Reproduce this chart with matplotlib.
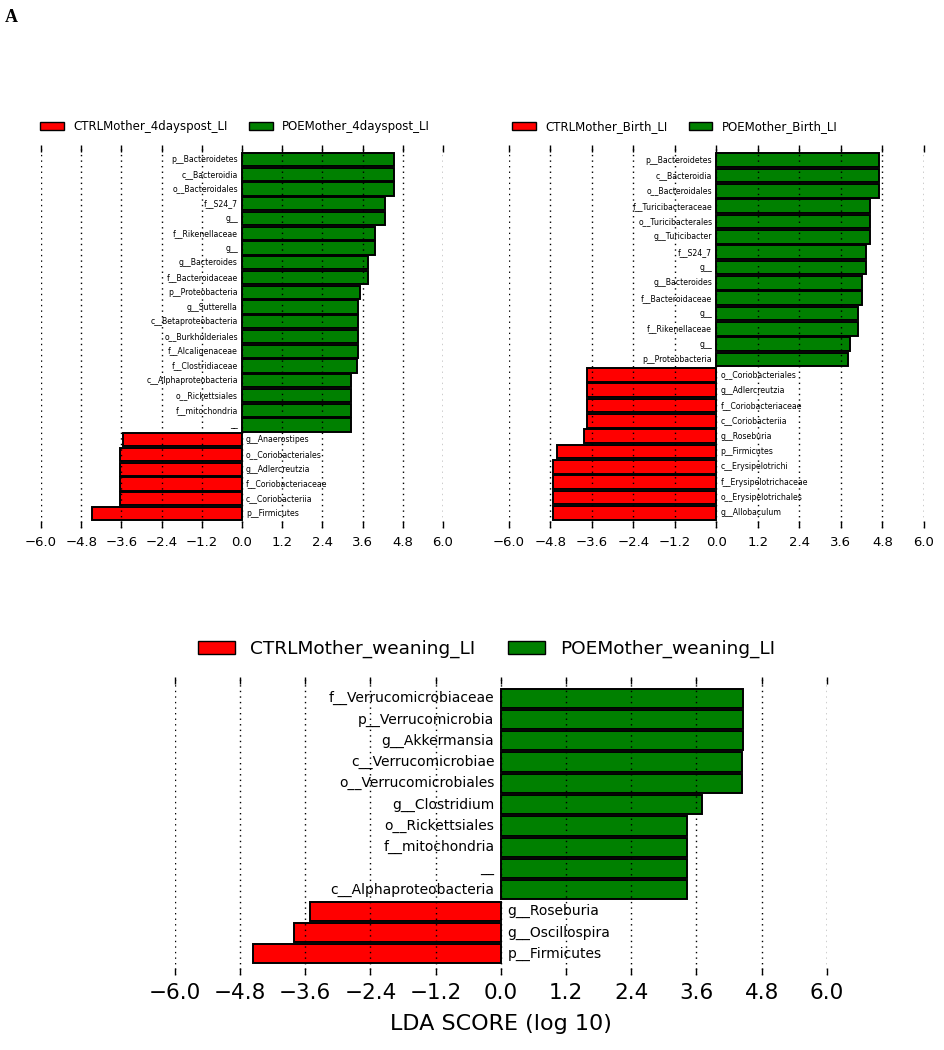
import numpy as np
import matplotlib
matplotlib.use("Agg")
import matplotlib.pyplot as plt
from matplotlib.patches import Patch

# panel 1: 4 days postpartum
tl_names = ["p__Bacteroidetes", "c__Bacteroidia", "o__Bacteroidales", "f__S24_7", "g__",
            "f__Rikenellaceae", "g__", "g__Bacteroides", "f__Bacteroidaceae", "p__Proteobacteria",
            "g__Sutterella", "c__Betaproteobacteria", "o__Burkholderiales", "f__Alcaligenaceae",
            "f__Clostridiaceae", "c__Alphaproteobacteria", "o__Rickettsiales", "f__mitochondria", "__",
            "g__Anaerostipes", "o__Coriobacteriales", "g__Adlercreutzia", "f__Coriobacteriaceae",
            "c__Coriobacteriia", "p__Firmicutes"]
tl_scores = [4.54, 4.54, 4.54, 4.27, 4.27, 3.97, 3.97, 3.75, 3.75, 3.52,
             3.47, 3.47, 3.47, 3.47, 3.42, 3.25, 3.25, 3.25, 3.25,
             -3.54, -3.64, -3.64, -3.64, -3.64, -4.47]
tl_groups = ["CTRLMother_4dayspost_LI", "POEMother_4dayspost_LI"]

# panel 2: birth
tr_names = ["p__Bacteroidetes", "c__Bacteroidia", "o__Bacteroidales", "f__Turicibacteraceae",
            "o__Turicibacterales", "g__Turicibacter", "f__S24_7", "g__", "g__Bacteroides",
            "f__Bacteroidaceae", "g__", "f__Rikenellaceae", "g__", "p__Proteobacteria",
            "o__Coriobacteriales", "g__Adlercreutzia", "f__Coriobacteriaceae", "c__Coriobacteriia",
            "g__Roseburia", "p__Firmicutes", "c__Erysipelotrichi", "f__Erysipelotrichaceae",
            "o__Erysipelotrichales", "g__Allobaculum"]
tr_scores = [4.69, 4.69, 4.69, 4.43, 4.43, 4.43, 4.33, 4.33, 4.21, 4.21, 4.09, 4.09, 3.87, 3.82,
             -3.74, -3.74, -3.74, -3.74, -3.82, -4.62, -4.72, -4.72, -4.72, -4.74]
tr_groups = ["CTRLMother_Birth_LI", "POEMother_Birth_LI"]

# panel 3: weaning
bt_names = ["f__Verrucomicrobiaceae", "p__Verrucomicrobia", "g__Akkermansia", "c__Verrucomicrobiae",
            "o__Verrucomicrobiales", "g__Clostridium", "o__Rickettsiales", "f__mitochondria", "__",
            "c__Alphaproteobacteria", "g__Roseburia", "g__Oscillospira", "p__Firmicutes"]
bt_scores = [4.46, 4.46, 4.46, 4.44, 4.44, 3.70, 3.42, 3.42, 3.42, 3.42, -3.51, -3.80, -4.57]
bt_groups = ["CTRLMother_weaning_LI", "POEMother_weaning_LI"]

ticks = np.arange(-6.0, 6.01, 1.2)
RED, GREEN = "#ff0000", "#008000"


def lda_panel(ax, names, scores, groups, lab_fs, tick_fs, leg_fs, leg_x, leg_y):
    scores = np.array(scores)
    n = len(names)
    y = np.arange(n)[::-1]
    cols = [GREEN if s > 0 else RED for s in scores]
    ax.barh(y, scores, height=0.9, color=cols, edgecolor="black", linewidth=1.4, zorder=1)
    for yi, s, name in zip(y, scores, names):
        if s > 0:
            ax.text(-0.12, yi, name, ha="right", va="center", fontsize=lab_fs, zorder=3)
        else:
            ax.text(0.12, yi, name, ha="left", va="center", fontsize=lab_fs, zorder=3)
    ax.set_xlim(-6.0, 6.0)
    ax.set_ylim(-1, n)
    ax.set_xticks(ticks)
    ax.set_xticklabels([f"{t:.1f}".replace("-", "\u2212") for t in ticks], fontsize=tick_fs)
    ax.set_yticks([])
    ax.tick_params(axis="x", direction="in", top=True, length=5, width=1, pad=6)
    for sp in ax.spines.values():
        sp.set_visible(False)
    ax.grid(axis="x", linestyle=(0, (1, 3)), color="black", linewidth=1, zorder=2)
    ax.set_axisbelow(False)
    handles = [Patch(facecolor=RED, edgecolor="black"), Patch(facecolor=GREEN, edgecolor="black")]
    ax.legend(handles, groups, loc="center", bbox_to_anchor=(leg_x, leg_y), ncol=2,
              frameon=False, fontsize=leg_fs, handlelength=2.0, columnspacing=1.8)


fig = plt.figure(figsize=(9.45, 10.5), dpi=100)

ax1 = fig.add_axes([0.0434, 0.497, 0.4254, 0.365])
lda_panel(ax1, tl_names, tl_scores, tl_groups, 5.6, 9.5, 8.5, 0.483, 1.047)

ax2 = fig.add_axes([0.5386, 0.497, 0.439, 0.365])
lda_panel(ax2, tr_names, tr_scores, tr_groups, 5.6, 9.5, 8.5, 0.40, 1.047)

ax3 = fig.add_axes([0.185, 0.0714, 0.69, 0.284])
lda_panel(ax3, bt_names, bt_scores, bt_groups, 10, 15.5, 13.3, 0.478, 1.094)
ax3.set_xlabel("LDA SCORE (log 10)", fontsize=16, labelpad=8)

fig.text(0.005, 0.983, "A", fontsize=13, fontweight="bold", family="Liberation Serif", va="center")

fig.savefig("out.png", dpi=100)
